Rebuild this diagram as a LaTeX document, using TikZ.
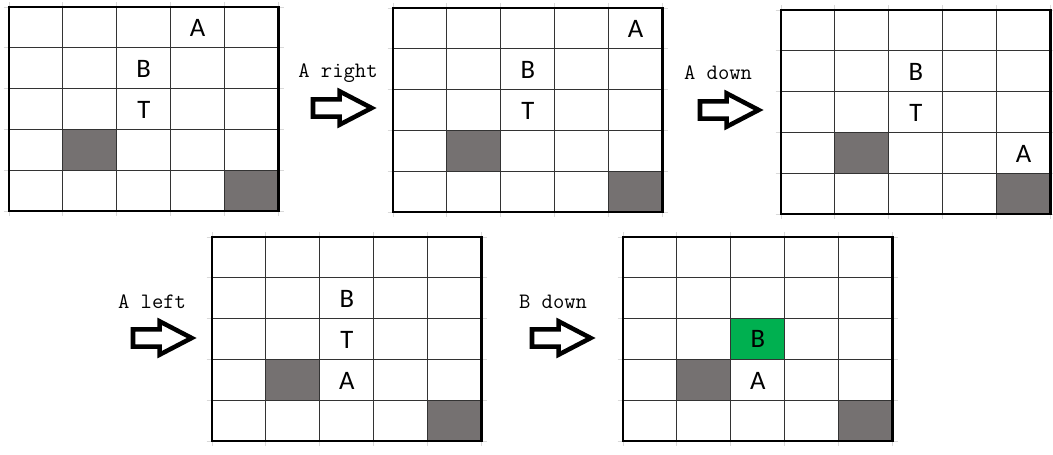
\documentclass[tikz,border=0pt]{standalone}
\usepackage{fontspec}
\usepackage{tikz}
\usetikzlibrary{shapes.arrows}
\newfontfamily\cellfont{Carlito}
\definecolor{cellgray}{HTML}{757171}
\definecolor{cellgreen}{HTML}{00B050}
\definecolor{stubgray}{HTML}{D9D9D9}
\tikzset{
  stub/.style={draw=stubgray, line width=0.75pt},
  inner/.style={draw=black!80, line width=0.8pt},
  outer/.style={draw=black, line width=1.6pt},
  piece/.style={font=\cellfont\fontsize{20}{20}\selectfont, inner sep=0pt},
  move/.style={single arrow, draw=black, fill=white, line width=3.4pt, minimum height=44pt, minimum width=21.5pt, single arrow head extend=6pt, single arrow tip angle=55, inner xsep=0pt, inner ysep=4.8pt, outer sep=0pt},
  lbl/.style={font=\ttfamily\fontsize{16.5}{16.5}\selectfont, anchor=base, inner sep=0pt},
  board/.style={x=40.425pt, y=-30.6pt}
}
% empty 5x5 board with the two blocked cells
\newcommand\boardlines{%
  \fill[cellgray] (1,3) rectangle (2,4);
  \fill[cellgray] (4,4) rectangle (5,5);
  \foreach \i in {0,...,5} {
    \draw[stub] (\i,-0.12) -- (\i,5.12);
    \draw[stub] (-0.1,\i) -- (5.1,\i);
  }
  \foreach \i in {1,...,4} {
    \draw[inner] (\i,0) -- (\i,5);
    \draw[inner] (0,\i) -- (5,\i);
  }
  \draw[outer] (0,0) rectangle (5,5);
}

\begin{document}
\begin{tikzpicture}[x=0.75pt, y=-0.75pt]
  \useasboundingbox (0,0) rectangle (1053,454);

  % start
  \begin{scope}[shift={(9,7)}, board]
    \boardlines
    \node [piece] (a1) at (3.5,0.52) {A};
    \node [piece] (b1) at (2.5,1.52) {B};
    \node [piece] (t1) at (2.5,2.52) {T};
  \end{scope}

  % after A right
  \begin{scope}[shift={(393,8)}, board]
    \boardlines
    \node [piece] (a2) at (4.5,0.52) {A};
    \node [piece] (b2) at (2.5,1.52) {B};
    \node [piece] (t2) at (2.5,2.52) {T};
  \end{scope}

  % after A down
  \begin{scope}[shift={(781,10)}, board]
    \boardlines
    \node [piece] (a3) at (4.5,3.52) {A};
    \node [piece] (b3) at (2.5,1.52) {B};
    \node [piece] (t3) at (2.5,2.52) {T};
  \end{scope}

  % after A left
  \begin{scope}[shift={(212,237)}, board]
    \boardlines
    \node [piece] (a4) at (2.5,3.52) {A};
    \node [piece] (b4) at (2.5,1.52) {B};
    \node [piece] (t4) at (2.5,2.52) {T};
  \end{scope}

  % after B down
  \begin{scope}[shift={(623,237)}, board]
    \fill[cellgreen] (2,2) rectangle (3,3);
    \boardlines
    \node [piece] (a5) at (2.5,3.52) {A};
    \node [piece] (b5) at (2.5,2.5) {B};
  \end{scope}

  \node [move] (m1) at (334,108) {};
  \node [move] (m2) at (721,110) {};
  \node [move] (m3) at (154,338) {};
  \node [move] (m4) at (553,338) {};

  \node [lbl] (l1) at (338,77) {A right};
  \node [lbl] (l2) at (718,79) {A down};
  \node [lbl] (l3) at (152,308) {A left};
  \node [lbl] (l4) at (553,308) {B down};
\end{tikzpicture}
\end{document}
